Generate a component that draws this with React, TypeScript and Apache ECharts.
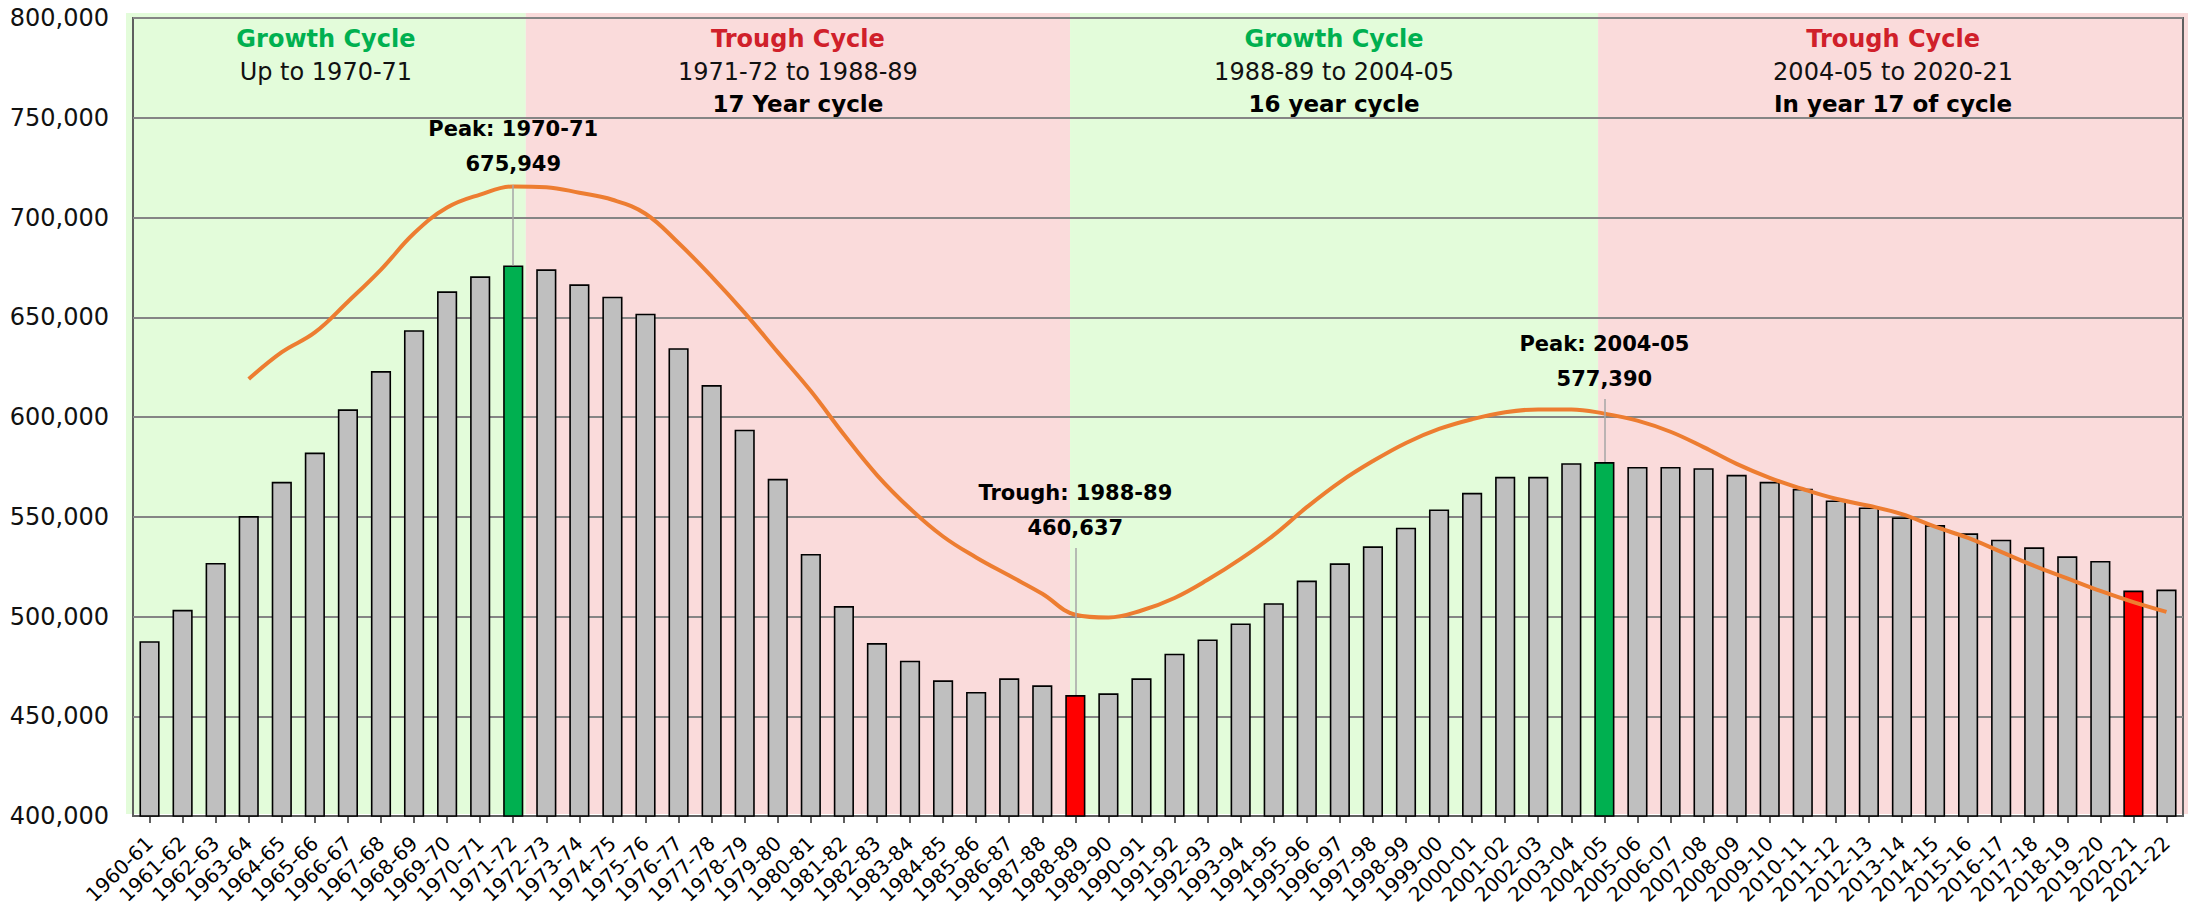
import React, { useEffect, useRef } from "react";
import * as echarts from "echarts";

const categories = [
  "1960-61", "1961-62", "1962-63", "1963-64", "1964-65", "1965-66", "1966-67", "1967-68", "1968-69", "1969-70",
  "1970-71", "1971-72", "1972-73", "1973-74", "1974-75", "1975-76", "1976-77", "1977-78", "1978-79", "1979-80",
  "1980-81", "1981-82", "1982-83", "1983-84", "1984-85", "1985-86", "1986-87", "1987-88", "1988-89", "1989-90",
  "1990-91", "1991-92", "1992-93", "1993-94", "1994-95", "1995-96", "1996-97", "1997-98", "1998-99", "1999-00",
  "2000-01", "2001-02", "2002-03", "2003-04", "2004-05", "2005-06", "2006-07", "2007-08", "2008-09", "2009-10",
  "2010-11", "2011-12", "2012-13", "2013-14", "2014-15", "2015-16", "2016-17", "2017-18", "2018-19", "2019-20",
  "2020-21", "2021-22",
];

const enrolments = [
  487650, 503350, 526850, 550330, 567500, 582170, 603830, 623000, 643500, 663000,
  670500, 675949, 674000, 666500, 660300, 651800, 634500, 616000, 593670, 569000,
  531330, 505250, 486670, 477830, 468000, 462170, 469000, 465500, 460637, 461500,
  469000, 481330, 488500, 496500, 506670, 518000, 526670, 535170, 544500, 553670,
  562000, 570000, 570000, 576830, 577390, 575000, 575000, 574330, 571000, 567500,
  564000, 558170, 554670, 549670, 545830, 541670, 538500, 534670, 530170, 527830,
  513000, 513500,
];

const trend = [
  null, null, null, 619000, 632500, 642400, 657800, 673900, 692100, 705000,
  711500, 715600, 715200, 712400, 708900, 701900, 687200, 670400, 652200, 632500,
  613000, 591200, 570900, 554100, 540100, 529600, 520500, 511400, 500900, 499500,
  503000, 509300, 518400, 528900, 540800, 554800, 567400, 577900, 587000, 594000,
  598900, 602400, 603800, 603800, 601700, 598200, 592600, 584900, 576500, 569500,
  563900, 559000, 555500, 551300, 545000, 539400, 532400, 525400, 519100, 512800,
  507200, 502300,
];

const peakCategories = ["1971-72", "2004-05"];
const troughCategories = ["1988-89", "2020-21"];

const yMin = 400000;
const yMax = 800000;
const yInterval = 50000;

const annotations = [
  { category: "1971-72", value: 675949, top: 716300, title: "Peak: 1970-71", amount: "675,949" },
  { category: "1988-89", value: 460637, top: 534300, title: "Trough: 1988-89", amount: "460,637" },
  { category: "2004-05", value: 577390, top: 609000, title: "Peak: 2004-05", amount: "577,390" },
];

const cycleKinds = ["growth", "trough", "growth", "trough"];
const cycleTitles = ["Growth Cycle", "Trough Cycle", "Growth Cycle", "Trough Cycle"];
const cycleRanges = ["Up to 1970-71", "1971-72 to 1988-89", "1988-89 to 2004-05", "2004-05 to 2020-21"];
const cycleLengths = ["", "17 Year cycle", "16 year cycle", "In year 17 of cycle"];
// band boundaries expressed in category units (from left edge of the category axis)
const cycleBounds = [11.88, 28.34, 44.31];

const W = 2190;
const H = 908;
const GRID_LEFT = 133;
const GRID_RIGHT = 7;
const GRID_TOP = 18;
const GRID_BOTTOM = 92;
const FONT = "'DejaVu Sans', 'Open Sans', sans-serif";

export default function App() {
  const ref = useRef<HTMLDivElement>(null);

  useEffect(() => {
    if (!ref.current) return;
    const chart = echarts.init(ref.current, undefined, { renderer: "svg" });

    const catW = (W - GRID_LEFT - GRID_RIGHT) / categories.length;
    const bandLeft = GRID_LEFT - 7;
    const bandRight = W - 2;
    const bandTop = GRID_TOP - 5;
    const bandBottom = H - GRID_BOTTOM - 2;
    const edges = [bandLeft, ...cycleBounds.map((b) => GRID_LEFT + catW * b), bandRight];

    const graphics: any[] = [];
    cycleKinds.forEach((kind, i) => {
      const x0 = edges[i];
      const x1 = edges[i + 1];
      graphics.push({
        type: "rect",
        z: -10,
        silent: true,
        shape: { x: x0, y: bandTop, width: x1 - x0, height: bandBottom - bandTop },
        style: { fill: kind === "growth" ? "#E3FCDA" : "#FADBDB" },
      });
      const cx = (x0 + x1) / 2;
      graphics.push({
        type: "text",
        z: 1,
        silent: true,
        x: cx,
        y: 39,
        style: {
          text: cycleTitles[i],
          fill: kind === "growth" ? "#00B050" : "#D0202A",
          font: `bold 24px ${FONT}`,
          align: "center",
          verticalAlign: "middle",
        },
      });
      graphics.push({
        type: "text",
        z: 1,
        silent: true,
        x: cx,
        y: 72,
        style: {
          text: cycleRanges[i],
          fill: "#111",
          font: `24px ${FONT}`,
          align: "center",
          verticalAlign: "middle",
        },
      });
      if (cycleLengths[i]) {
        graphics.push({
          type: "text",
          z: 1,
          silent: true,
          x: cx,
          y: 104,
          style: {
            text: cycleLengths[i],
            fill: "#000",
            font: `bold 23px ${FONT}`,
            align: "center",
            verticalAlign: "middle",
          },
        });
      }
    });

    const barData = enrolments.map((v, i) => {
      const c = categories[i];
      let color = "#BFBFBF";
      if (peakCategories.includes(c)) color = "#00B050";
      if (troughCategories.includes(c)) color = "#FF0000";
      return { value: v, itemStyle: { color } };
    });

    chart.setOption({
      animation: false,
      backgroundColor: "#ffffff",
      grid: {
        left: GRID_LEFT,
        right: GRID_RIGHT,
        top: GRID_TOP,
        bottom: GRID_BOTTOM,
        show: true,
        borderColor: "#5f5f5f",
        borderWidth: 2,
        backgroundColor: "transparent",
      },
      graphic: graphics,
      xAxis: {
        type: "category",
        data: categories,
        boundaryGap: true,
        axisLine: { show: true, lineStyle: { color: "#5f5f5f", width: 2 } },
        axisTick: { show: true, alignWithLabel: true, length: 7, lineStyle: { color: "#5f5f5f", width: 2 } },
        axisLabel: {
          interval: 0,
          rotate: 44,
          margin: 24,
          fontFamily: FONT,
          fontSize: 20,
          color: "#000",
        },
        splitLine: { show: false },
      },
      yAxis: {
        type: "value",
        min: yMin,
        max: yMax,
        interval: yInterval,
        axisLine: { show: false },
        axisTick: { show: false },
        axisLabel: {
          margin: 24,
          fontFamily: FONT,
          fontSize: 24,
          color: "#111",
          formatter: (v: number) => v.toLocaleString("en-US"),
        },
        splitLine: { show: true, lineStyle: { color: "#858585", width: 2 } },
      },
      series: [
        {
          type: "bar",
          data: barData,
          barCategoryGap: "39%",
          itemStyle: { borderColor: "#000", borderWidth: 1.6 },
          z: 3,
          markLine: {
            silent: true,
            symbol: "none",
            animation: false,
            lineStyle: { color: "#A6A6A6", width: 1.5, type: "solid" },
            label: {
              show: true,
              position: "end",
              distance: 3,
              fontFamily: FONT,
              fontSize: 21,
              fontWeight: "bold",
              color: "#000",
              lineHeight: 35,
              align: "center",
            },
            data: annotations.map((a) => [
              { coord: [a.category, a.value], label: { formatter: a.title + "\n" + a.amount } },
              { coord: [a.category, a.top] },
            ]),
          },
        },
        {
          type: "line",
          data: trend,
          smooth: 0.4,
          showSymbol: false,
          symbol: "none",
          z: 4,
          lineStyle: { color: "#ED7D31", width: 4 },
        },
      ],
    });

    return () => chart.dispose();
  }, []);

  return (
    <div
      ref={ref}
      style={{ position: "absolute", left: 0, top: 0, width: W, height: H, background: "#fff" }}
    />
  );
}
